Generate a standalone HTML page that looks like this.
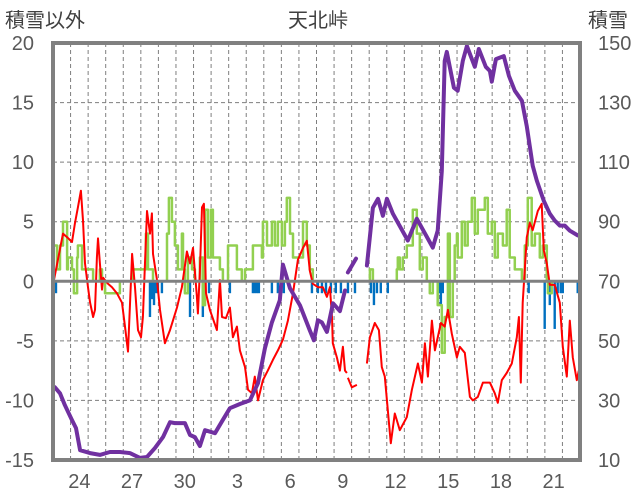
<!DOCTYPE html>
<html><head><meta charset="utf-8">
<style>
html,body{margin:0;padding:0;background:#fff;}
svg{display:block;font-family:"Liberation Sans","Noto Sans CJK JP",sans-serif;}
</style></head>
<body>
<svg id="chart" width="636" height="501" viewBox="0 0 636 501" xmlns="http://www.w3.org/2000/svg">
<text x="5" y="27" font-size="20" fill="#404040">積雪以外</text>
<text x="318" y="27" font-size="20" fill="#404040" text-anchor="middle">天北峠</text>
<text x="588" y="27" font-size="20" fill="#404040">積雪</text>
<g id="grid"></g>
<g id="bars"></g>
<g id="lines"></g>
<g id="axes"></g>
</svg>
<script>
const leftTicks = [20,15,10,5,0,-5,-10,-15];
const rightTicks = [150,130,110,90,70,50,30,10];
const dayLabels = ["24","27","30","3","6","9","12","15","18","21"];
const dayLabelPos = [1,4,7,10,13,16,19,22,25,28];

const redT = [0,.28,.57,.80,1.08,1.25,1.42,1.59,1.71,1.82,1.99,2.11,2.28,2.39,2.50,2.56,2.67,2.79,2.85,3.13,3.36,3.64,3.93,4.10,4.27,4.50,4.67,4.84,5.01,5.12,5.35,5.52,5.63,5.69,5.92,6.09,6.37,6.66,7.06,7.34,7.62,7.80,7.97,8.19,8.25,8.36,8.48,8.59,8.71,8.93,9.33,9.50,9.62,9.84,10.07,10.24,10.47,10.64,10.93,11.10,11.32,11.49,11.67,11.95,12.23,12.52,12.80,13.09,13.37,13.66,13.94,14.23,14.45,14.62,14.79,15.08,15.36,15.59,15.76,15.88,15.93,16.16,16.33,16.50,16.62,16.73,null,16.79,17.01,17.30,null,17.87,18.04,18.32,18.55,18.72,18.89,19.06,19.23,19.46,19.74,20.14,20.43,20.77,21.00,21.17,21.34,21.57,21.74,22.08,22.30,22.48,22.70,22.99,23.16,23.44,23.73,23.90,24.18,24.47,24.87,25.15,25.32,25.55,25.83,26.12,26.40,26.52,26.63,26.74,26.97,27.14,27.31,27.60,27.82,27.94,28.11,28.28,28.56,28.85,29.02,29.25,29.42,29.59,29.82,29.93];
const redV = [-0.3,1.8,4.0,3.7,3.3,4.9,6.2,7.6,5.1,1.5,-0.5,-1.8,-3.0,-2.4,2.0,3.6,1.5,-0.7,0.3,-0.2,-0.5,-1.0,-1.8,-3.8,-5.9,2.3,-0.5,-4.1,-4.7,-3.0,5.9,4.0,5.7,2.3,0.1,-2.4,-5.2,-4.1,-2.2,-0.5,2.5,1.5,2.8,-1.3,-2.7,0.9,6.2,6.5,-1.0,-2.4,-4.1,0.1,-3.0,-3.1,-2.2,-4.7,-3.8,-5.8,-7.2,-9.1,-9.4,-8.0,-10.0,-8.3,-7.5,-6.6,-5.8,-4.9,-3.3,-1.0,1.8,2.8,3.4,0.9,-0.2,-0.5,-0.5,-1.3,-0.5,-3.0,-5.2,-6.4,-7.5,-5.5,-7.5,-7.7,null,-8.1,-8.9,-8.7,null,-6.9,-4.7,-3.5,-4.1,-7.2,-8.0,-10.8,-13.6,-11.1,-12.5,-11.4,-9.1,-6.9,-8.5,-5.2,-8.0,-3.3,-5.8,-3.5,-3.8,-2.4,-4.4,-6.4,-5.5,-6.0,-9.7,-10.0,-9.7,-8.5,-8.5,-9.4,-10.2,-8.3,-7.7,-6.9,-4.7,-3.0,-8.5,-1.8,3.7,4.9,4.3,5.9,6.5,2.6,1.5,-0.3,-0.3,-1.8,-5.5,-8.0,-3.3,-6.4,-8.3,-7.5];

const greenT = [0,.23,.40,.57,.80,.85,1.08,1.19,1.37,1.42,1.65,2.11,2.28,2.67,2.79,2.96,3.81,4.38,4.55,5.12,5.29,5.41,5.69,6.26,6.49,6.60,6.77,6.94,7.11,7.34,7.40,7.51,7.68,7.91,8.08,8.36,8.53,8.65,8.82,8.99,9.10,9.33,9.50,9.67,9.96,10.24,10.47,10.75,10.93,11.21,11.38,11.61,11.89,11.95,12.18,12.35,12.46,12.63,12.80,13.03,13.20,13.31,13.49,13.66,13.94,14.23,14.45,14.62,14.79,17.92,18.04,18.21,19.35,19.57,19.63,19.74,19.91,20.14,20.31,20.48,20.71,20.88,21.05,21.28,21.45,21.62,21.90,22.13,22.30,22.48,22.59,22.76,22.87,22.99,23.04,23.27,23.44,23.61,23.84,24.01,24.18,24.41,24.58,24.75,24.98,25.15,25.32,25.61,25.83,26.00,26.29,26.46,26.69,26.86,27.03,27.25,27.43,27.71,27.88,28.11,28.17,28.39,29.99];
const greenV = [3,1,3,5,1,2,1,-1,2,3,1,1,0,1,0,-1,0,0,1,1,4,1,0,0,4,7,5,3,1,4,1,-1,2,1,0,2,-2,6,2,6,2,2,1,0,3,3,1,0,1,1,3,3,2,5,3,3,5,3,5,3,5,7,4,2,2,5,3,1,0,0,1,0,0,1,2,1,2,3,3,6,4,1,2,0,-1,0,-2,-6,-3,4,-3,0,3,4,2,5,3,5,7,4,6,6,7,4,5,2,4,3,6,2,1,1,0,3,7,3,4,2,3,0,-1,0,0];

const snowT = [.11,.40,.68,1.08,1.31,1.54,2.11,2.67,3.24,3.81,4.38,4.95,5.35,5.80,6.26,6.66,6.94,7.51,7.80,8.08,8.36,8.65,9.22,9.62,10.07,10.64,11.21,11.67,12.06,12.46,12.91,13.09,13.49,14.06,14.62,14.85,15.08,15.31,15.59,15.94,16.33,16.62,null,16.79,17.25,null,17.87,18.21,18.50,18.78,19.01,19.35,20.20,20.71,21.62,21.90,22.13,22.30,22.42,22.82,23.04,23.33,23.56,24.01,24.24,24.64,24.87,24.98,25.21,25.66,25.95,26.29,26.69,26.97,27.31,27.54,27.94,28.28,28.56,28.85,29.13,29.42,29.87];
const snowV = [34.4,32.4,28.4,23.4,20.7,13.3,12.3,11.7,12.7,12.7,12.3,10.7,11,14,17.7,22.7,22.4,22.4,18.4,17.7,14.7,20,19,23,27.4,28.8,30,35.8,47.5,56.2,63.6,75.6,67.6,61.9,53.5,50.2,56.9,56.2,53,62.6,60,66.9,null,73,77.6,null,75.3,94.7,97.7,92,97.7,92.7,83.7,91,81.3,87,107,144,147,135,134,144,149,142,148,142,140.6,137,144.6,145.6,139,134,130.6,122,108.8,103.8,97,92.7,90.4,88.7,88.7,87,85.4];

const barT = [.17,5.52,5.63,5.75,5.86,5.97,6.20,7.80,8.53,8.88,10.07,11.38,11.49,11.61,11.72,12.46,12.80,12.97,13.14,14.74,15.08,15.31,15.54,15.82,16.10,16.39,16.79,17.19,18.10,18.27,18.44,18.66,19.06,21.96,22.08,22.19,27.08,27.99,28.28,28.56,28.73,28.90,29.02,29.87];
const barV = [-1,-3,-1.5,-2,-1,-1,-1,-3,-3,-1,-1,-1,-1,-1,-1,-1,-1,-1,-1,-1,-1,-1,-1,-1,-1,-1,-1,-1,-1,-2,-1,-1,-1,-1,-2,-1,-1,-4,-2,-4,-1,-1,-1,-1];

const X0=53, X1=580, Y0=43, Y1=460, DAYS=30;
const xs = t => X0 + t*(X1-X0)/DAYS;
const yL = v => Y1 - (v+15)*(Y1-Y0)/35;
const yR = v => Y1 - (v-10)*(Y1-Y0)/140;
const NS="http://www.w3.org/2000/svg";
function mk(tag, parent, attrs){const e=document.createElementNS(NS,tag);for(const k in attrs)e.setAttribute(k,attrs[k]);parent.appendChild(e);return e;}
const grid=document.getElementById('grid'), bars=document.getElementById('bars'), lines=document.getElementById('lines'), axes=document.getElementById('axes');

for(let d=1; d<DAYS; d++){
  const l=mk('line',grid,{x1:xs(d),x2:xs(d),y1:Y0,y2:Y1,stroke:'#7f7f7f','stroke-width':1,'stroke-dasharray':'4,3'});
  
  
}
leftTicks.forEach(v=>{
  if(v!==20 && v!==-15 && v!==0){
    const l=mk('line',grid,{x1:X0,x2:X1,y1:yL(v),y2:yL(v),stroke:'#7f7f7f','stroke-width':1,'stroke-dasharray':'4,3'});
    
    
  }
  const t=mk('text',axes,{x:34,y:yL(v)+7,'font-size':20,fill:'#595959','text-anchor':'end'});
  t.textContent=v;
  
  
});
rightTicks.forEach(v=>{
  const t=mk('text',axes,{x:598,y:yR(v)+7,'font-size':20,fill:'#595959'});
  t.textContent=v;
  
  
});
dayLabels.forEach((s,i)=>{
  const t=mk('text',axes,{x:xs(dayLabelPos[i]+0.5),y:488,'font-size':20,fill:'#595959','text-anchor':'middle'});
  t.textContent=s;
  
  
});

barT.forEach((t,i)=>{
  const y0=yL(0), y1=yL(barV[i]);
  const r=mk('rect',bars,{x:xs(t)-1.2,y:Math.min(y0,y1),width:2.4,height:Math.abs(y1-y0),fill:'#0070C0'});
  
  
});

const zl=mk('line',axes,{x1:X0,x2:X1,y1:yL(0),y2:yL(0),stroke:'#808080','stroke-width':3});



function pathFrom(T,V,yf){
  let d='',pen=false;
  for(let i=0;i<T.length;i++){
    if(T[i]===null||V[i]===null){pen=false;continue;}
    d+=(pen?'L':'M')+xs(T[i]).toFixed(1)+','+yf(V[i]).toFixed(1);pen=true;
  }
  return d;
}
function stepFrom(T,V,yf){
  let d='M'+xs(T[0]).toFixed(1)+','+yf(V[0]).toFixed(1);
  for(let i=1;i<T.length;i++){
    d+='H'+xs(T[i]).toFixed(1)+'V'+yf(V[i]).toFixed(1);
  }
  return d;
}
const gp=mk('path',lines,{d:stepFrom(greenT,greenV,yL),fill:'none',stroke:'#92D050','stroke-width':2.5,'stroke-linejoin':'round'});


const rp=mk('path',lines,{d:pathFrom(redT,redV,yL),fill:'none',stroke:'#FF0000','stroke-width':2,'stroke-linejoin':'round'});


const pp=mk('path',lines,{d:pathFrom(snowT,snowV,yR),fill:'none',stroke:'#7030A0','stroke-width':4,'stroke-linejoin':'round','stroke-linecap':'round'});



const fr=mk('rect',axes,{x:X0,y:Y0,width:X1-X0,height:Y1-Y0,fill:'none',stroke:'#808080','stroke-width':4});


</script>
</body></html>
